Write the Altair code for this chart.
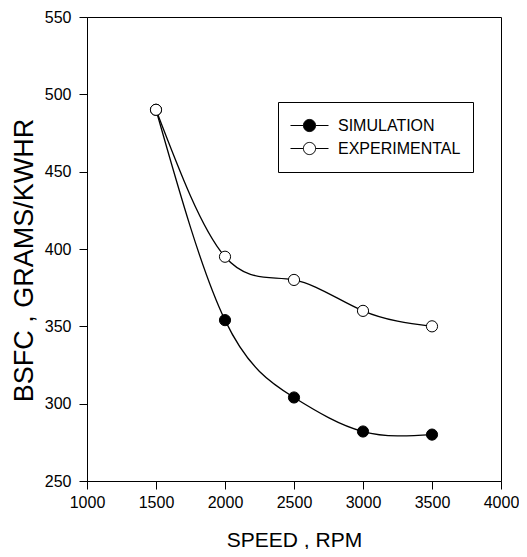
import altair as alt
import pandas as pd

speed = [1500, 2000, 2500, 3000, 3500]
simulation = [490, 354, 304, 282, 280]
experimental = [490, 395, 380, 360, 350]
series_names = ["SIMULATION", "EXPERIMENTAL"]
series_fill = ["black", "white"]
x_ticks = [1000, 1500, 2000, 2500, 3000, 3500, 4000]
y_ticks = [250, 300, 350, 400, 450, 500, 550]

rows = []
for name, vals in zip(series_names, [simulation, experimental]):
    for s, v in zip(speed, vals):
        rows.append({"speed": s, "bsfc": v, "series": name})
df = pd.DataFrame(rows)
df["idx"] = range(len(df))

FONT = "Liberation Sans"

x_enc = alt.X(
    "speed:Q",
    scale=alt.Scale(domain=[1000, 4000], nice=False, zero=False),
    axis=alt.Axis(
        values=x_ticks, format="d", title="SPEED , RPM",
        titleFontSize=21, titleX=207, titleY=65,
        titleBaseline="alphabetic", titleAlign="center",
        labelPadding=5, labelFlush=False,
    ),
)
y_enc = alt.Y(
    "bsfc:Q",
    scale=alt.Scale(domain=[250, 550], nice=False, zero=False),
    axis=alt.Axis(
        values=y_ticks, format="d", title="BSFC , GRAMS/KWHR",
        titleFontSize=27, titleX=-55, titleY=243,
        titleBaseline="alphabetic", titleAlign="center", titleAngle=-90,
        labelPadding=8, labelFlush=False,
    ),
)

lines = alt.Chart(df).mark_line(
    interpolate="natural", color="black", strokeWidth=1.3
).encode(x=x_enc, y=y_enc, detail="series:N")

sym_path = ("M-1,0H-0.32M0.32,0H1"
            "M0.32,0A0.32,0.32 0 1,1 -0.32,0A0.32,0.32 0 1,1 0.32,0Z")

points = alt.Chart(df).mark_point(
    filled=True, size=125, stroke="black", strokeWidth=1, opacity=1
).encode(
    x=x_enc, y=y_enc,
    fill=alt.Fill(
        "series:N",
        scale=alt.Scale(domain=series_names, range=series_fill),
        legend=alt.Legend(
            title=None, orient="none", legendX=191, legendY=85,
            strokeColor="black", fillColor="white", padding=12,
            labelFontSize=16, labelFont=FONT, labelColor="black",
            symbolType=sym_path, symbolSize=1444,
            symbolStrokeColor="black", symbolStrokeWidth=1,
            clipHeight=23, rowPadding=0, labelOffset=9,
        ),
    ),
    order="idx:Q",
)

chart = alt.layer(lines, points).properties(
    width=414, height=464,
    padding={"left": 79, "top": 9, "right": 18, "bottom": 68},
    autosize=alt.AutoSizeParams(type="none"),
).configure_view(
    stroke="black", strokeWidth=1
).configure_axis(
    grid=False, domainColor="black", tickColor="black", tickSize=8,
    labelColor="black", labelFontSize=16, labelFont=FONT,
    titleColor="black", titleFont=FONT, titleFontWeight="normal",
    domainWidth=1, tickWidth=1,
)

chart.save("out.html", embed_options={"renderer": "svg", "actions": False})
